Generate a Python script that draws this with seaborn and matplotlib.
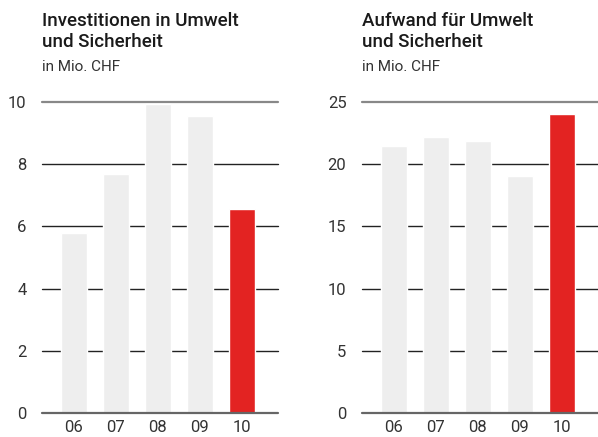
import matplotlib
matplotlib.use("Agg")
import matplotlib.pyplot as plt
import seaborn as sns
import pandas as pd

years = ["06", "07", "08", "09", "10"]
invest = [5.8, 7.7, 9.94, 9.55, 6.57]
aufwand = [21.46, 22.18, 21.86, 19.07, 24.02]
titles = ["Investitionen in Umwelt\nund Sicherheit", "Aufwand für Umwelt\nund Sicherheit"]
unit = "in Mio. CHF"
yticks_left = [0, 2, 4, 6, 8, 10]
yticks_right = [0, 5, 10, 15, 20, 25]

sns.set_theme(style="white")
plt.rcParams['font.family'] = ['Roboto', 'DejaVu Sans']

GRAY = "#eeeeee"
RED = "#e32322"
colors = [GRAY, GRAY, GRAY, GRAY, RED]

fig = plt.figure(figsize=(5.98, 4.37), dpi=100)
W, H = 598, 437

def make_axes(x0, values, ticks, title):
    ax = fig.add_axes([x0 / W, (H - 413) / H, 236 / W, 311 / H])
    df = pd.DataFrame({"year": years, "value": values})
    sns.barplot(data=df, x="year", y="value", hue="year", palette=colors,
                legend=False, width=0.62, saturation=1, ax=ax, zorder=3)
    ax.set_xlim(-0.77, 4.86)
    ax.set_ylim(ticks[0], ticks[-1])
    ax.set_yticks(ticks)
    ax.set_yticklabels([str(t) for t in ticks])
    for i, t in enumerate(ticks):
        if i == 0:
            c, lw = "#666666", 1.6
        elif i == len(ticks) - 1:
            c, lw = "#888888", 1.6
        else:
            c, lw = "#222222", 1.0
        ax.axhline(t, color=c, lw=lw, clip_on=False, zorder=2 if i > 0 else 4)
    for s in ax.spines.values():
        s.set_visible(False)
    ax.set_xlabel("")
    ax.set_ylabel("")
    ax.tick_params(axis="both", length=0, labelsize=12, colors="#333333")
    ax.tick_params(axis="y", pad=11)
    ax.tick_params(axis="x", pad=5)
    ax.set_facecolor("none")
    fig.text(x0 / W, 1 - 12 / H, title, ha="left", va="top", fontsize=13.5,
             fontweight="medium", color="#1a1a1a", linespacing=1.2)
    fig.text(x0 / W, 1 - 60 / H, unit, ha="left", va="top", fontsize=11,
             color="#333333")
    return ax

make_axes(41.7, invest, yticks_left, titles[0])
make_axes(361.7, aufwand, yticks_right, titles[1])

fig.savefig("out.png", dpi=100)
